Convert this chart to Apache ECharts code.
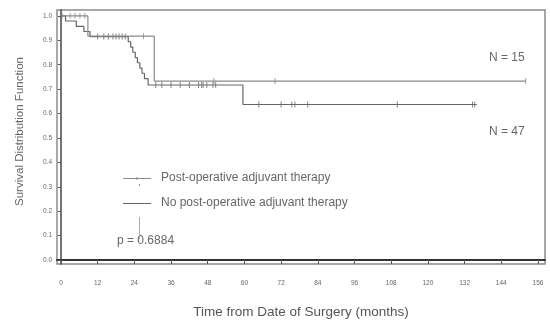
<!DOCTYPE html>
<html><head><meta charset="utf-8">
<script src="https://cdn.jsdelivr.net/npm/echarts@6/dist/echarts.min.js"></script>
<style>html,body{margin:0;padding:0;background:#fff}#c{width:550px;height:324px}</style>
</head><body><div id="c"></div>
<script>
// tick labels
const timeTicks = [0, 12, 24, 36, 48, 60, 72, 84, 96, 108, 120, 132, 144, 156];
const survTicks = [0, 0.1, 0.2, 0.3, 0.4, 0.5, 0.6, 0.7, 0.8, 0.9, 1.0];
// No post-operative adjuvant therapy (N = 47): event times and survival after each step
const noAdjTimes = [0, 1.5, 5, 7.5, 9.5, 22, 22.8, 23.5, 24.3, 25, 25.8, 26.5, 27.3, 28.5, 59.5, 136];
const noAdjSurv  = [1, 0.979, 0.957, 0.936, 0.915, 0.894, 0.872, 0.851, 0.829, 0.808, 0.786, 0.765, 0.743, 0.717, 0.637, 0.637];
const noAdjCensor = [12, 14, 15.5, 17, 18, 19, 20, 21, 31, 33, 36, 39, 42, 45, 46, 46.5, 47.7, 49.7, 50.6, 64.7, 72, 75.5, 76.5, 80.7, 110, 134.6, 135.3];
// Post-operative adjuvant therapy (N = 15)
const adjTimes = [0, 8.8, 30.5, 152];
const adjSurv  = [1, 0.917, 0.733, 0.733];
const adjCensor = [0.4, 3, 4.6, 6.2, 7.8, 27, 50, 70, 152];

const nameAdj = 'Post-operative adjuvant therapy';
const nameNo = 'No post-operative adjuvant therapy';
const colAdj = '#8a8a8a';
const colNo = '#666666';

function survAt(times, surv, t) {
  let s = surv[0];
  for (let i = 0; i < times.length; i++) { if (times[i] <= t) s = surv[i]; }
  return s;
}
const pairs = (xs, ys) => xs.map((x, i) => [x, ys[i]]);
const cens = (c, times, surv) => c.map(t => [t, survAt(times, surv, t)]);

const font = 'Liberation Sans, Arial, sans-serif';
const chart = echarts.init(document.getElementById('c'), null, {renderer: 'canvas'});
chart.setOption({
  animation: false,
  backgroundColor: '#fff',
  grid: {left: 57, right: 5, top: 10, bottom: 53, show: true, borderColor: '#8c8c8c', borderWidth: 1.5},
  xAxis: {
    type: 'value', min: -1.3, max: 158.3,
    name: 'Time from Date of Surgery (months)', nameLocation: 'middle', nameGap: 41,
    nameTextStyle: {color: '#555', fontSize: 13.5, fontFamily: font},
    axisLine: {show: true, lineStyle: {color: '#333', width: 2}},
    axisTick: {show: true, length: 4, customValues: timeTicks, lineStyle: {color: '#555'}},
    axisLabel: {customValues: timeTicks, color: '#666', fontSize: 6.5, fontFamily: font, margin: 16},
    splitLine: {show: false}
  },
  yAxis: {
    type: 'value', min: -0.016, max: 1.024,
    axisLine: {show: true, lineStyle: {color: '#444', width: 1.5}},
    axisTick: {show: true, length: 3, customValues: survTicks, lineStyle: {color: '#555'}},
    axisLabel: {customValues: survTicks, color: '#666', fontSize: 6.5, fontFamily: font, margin: 5,
      formatter: v => v.toFixed(1)},
    splitLine: {show: false}
  },
  legend: {
    orient: 'vertical', left: 118, top: 167, itemWidth: 28, itemHeight: 4, itemGap: 13,
    textStyle: {color: '#666', fontSize: 12, fontFamily: font, padding: [0, 0, 0, 5]},
    data: [
      {name: nameAdj, icon: 'path://M0,2H28V3H0Z M13.5,1H14.5V4H13.5Z M0,0H0.01V0.01H0Z'},
      {name: nameNo, icon: 'path://M0,2H28V3H0Z M0,0H0.01V0.01H0Z M27.99,3.99H28V4H27.99Z'}
    ]
  },
  series: [
    {name: nameNo, type: 'line', step: 'end', showSymbol: false, symbol: 'none',
     data: pairs(noAdjTimes, noAdjSurv), color: colNo,
     lineStyle: {color: colNo, width: 1.2}},
    {name: nameNo, type: 'scatter', data: cens(noAdjCensor, noAdjTimes, noAdjSurv),
     symbol: 'rect', symbolSize: [1, 6], itemStyle: {color: colNo}},
    {name: nameAdj, type: 'line', step: 'end', showSymbol: false, symbol: 'none',
     data: pairs(adjTimes, adjSurv), color: colAdj,
     lineStyle: {color: colAdj, width: 1.2}},
    {name: nameAdj, type: 'scatter', data: cens(adjCensor, adjTimes, adjSurv),
     symbol: 'rect', symbolSize: [1, 6], itemStyle: {color: colAdj}}
  ],
  graphic: [
    {type: 'text', x: 20, y: 131.5, rotation: Math.PI / 2,
     style: {text: 'Survival Distribution Function', fill: '#666', font: '11.5px ' + font,
             align: 'center', verticalAlign: 'middle'}},
    {type: 'text', left: 489, top: 52, style: {text: 'N = 15', fill: '#666', font: '12px ' + font}},
    {type: 'text', left: 489, top: 126, style: {text: 'N = 47', fill: '#666', font: '12px ' + font}},
    {type: 'text', left: 117, top: 235, style: {text: 'p = 0.6884', fill: '#666', font: '12px ' + font}},
    {type: 'rect', shape: {x: 139, y: 184, width: 1, height: 2}, style: {fill: '#999'}},
    {type: 'rect', shape: {x: 139, y: 217, width: 1, height: 22}, style: {fill: '#aaa'}}
  ]
});
</script></body></html>
